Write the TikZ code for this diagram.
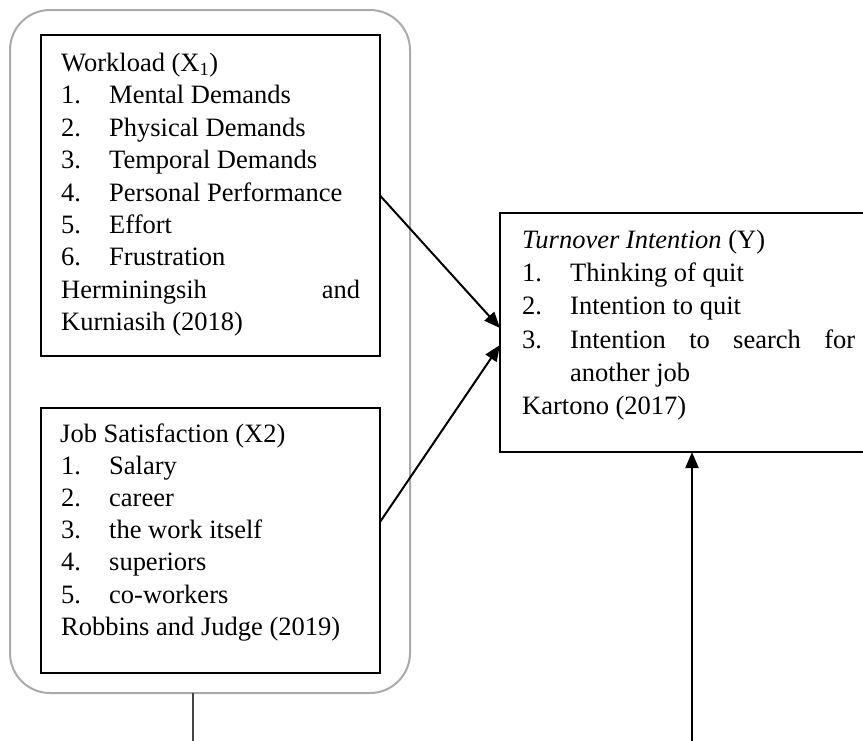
\documentclass[tikz,border=0pt]{standalone}
\usepackage{fontspec}
\setmainfont{Liberation Serif}
\usetikzlibrary{arrows.meta}
\definecolor{outergray}{HTML}{AAAAAA}
\definecolor{linegray}{HTML}{444444}
\begin{document}
\begin{tikzpicture}[x=1pt,y=-1pt,
  txt/.style={anchor=base west, inner sep=0pt, font=\fontsize{26.5}{32}\selectfont},
  boxst/.style={draw=black, line width=1.1pt, anchor=north west, inner sep=0pt, outer sep=0pt},
  arr/.style={line width=2pt, -{Triangle[length=16pt,width=13pt]}}]
\useasboundingbox (0,0) rectangle (863,740);
% outer rounded frame
\node[draw=outergray, line width=2pt, rounded corners=40pt, anchor=north west, inner sep=0pt, outer sep=0pt,
      minimum width=400pt, minimum height=683pt] (outer) at (10,10) {};
% boxes
\node[boxst, minimum width=339pt, minimum height=321pt] (wl) at (41,35) {};
\node[boxst, minimum width=339pt, minimum height=265pt] (js) at (41,408) {};
\node[boxst, minimum width=384pt, minimum height=239pt] (to) at (500,213) {};
% Workload text
\node[txt] (w0) at (61,71.5) {Workload (X\textsubscript{1})};
\node[txt] (w1) at (61,103.9) {\makebox[48pt][l]{1.}Mental Demands};
\node[txt] (w2) at (61,136.3) {\makebox[48pt][l]{2.}Physical Demands};
\node[txt] (w3) at (61,168.7) {\makebox[48pt][l]{3.}Temporal Demands};
\node[txt] (w4) at (61,201.1) {\makebox[48pt][l]{4.}Personal Performance};
\node[txt] (w5) at (61,233.5) {\makebox[48pt][l]{5.}Effort};
\node[txt] (w6) at (61,265.9) {\makebox[48pt][l]{6.}Frustration};
\node[txt] (w7) at (61,298.3) {\makebox[299pt][s]{Herminingsih\hfill and}};
\node[txt] (w8) at (61,330.7) {Kurniasih (2018)};
% Job satisfaction text
\node[txt] (j0) at (60,442.5) {Job Satisfaction (X2)};
\node[txt] (j1) at (61,474.6) {\makebox[48pt][l]{1.}Salary};
\node[txt] (j2) at (61,506.7) {\makebox[48pt][l]{2.}career};
\node[txt] (j3) at (61,538.8) {\makebox[48pt][l]{3.}the work itself};
\node[txt] (j4) at (61,570.9) {\makebox[48pt][l]{4.}superiors};
\node[txt] (j5) at (61,603.0) {\makebox[48pt][l]{5.}co-workers};
\node[txt] (j6) at (61,635.1) {Robbins and Judge (2019)};
% Turnover text
\node[txt] (t0) at (522,248.3) {\textit{Turnover Intention} (Y)};
\node[txt] (t1) at (522,281.6) {\makebox[48pt][l]{1.}Thinking of quit};
\node[txt] (t2) at (522,314.9) {\makebox[48pt][l]{2.}Intention to quit};
\node[txt] (t3) at (522,348.2) {\makebox[48pt][l]{3.}\makebox[285pt][s]{Intention to search for}};
\node[txt] (t4) at (522,381.5) {\hspace*{48pt}another job};
\node[txt] (t5) at (522,414.8) {Kartono (2017)};
% connectors
\coordinate (bl) at (193,745);
\coordinate (br) at (692,745);
\draw[arr] (wl.east) -- ([yshift=4.5pt]to.west);
\draw[arr] ([yshift=18.5pt]js.east) -- ([yshift=-12.5pt]to.west);
\draw[arr] (to.south |- br) -- (to.south);
\draw[linegray, line width=1.5pt] ([xshift=-17pt]outer.south) -- ([xshift=-17pt]outer.south |- bl);
\end{tikzpicture}
\end{document}
